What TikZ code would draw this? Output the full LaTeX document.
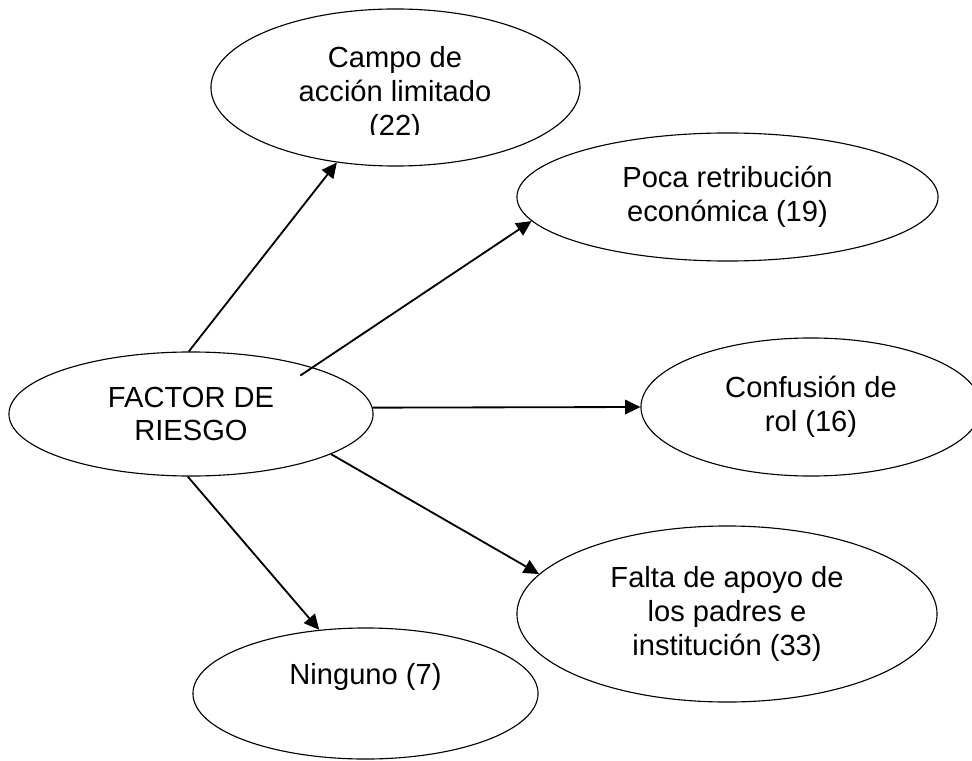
\documentclass[tikz,border=0pt]{standalone}
\usepackage{fontspec}
\setmainfont{Liberation Sans}
\usetikzlibrary{shapes.geometric, arrows.meta}

\begin{document}
\begin{tikzpicture}[
  x=0.025cm, y=-0.025cm,
  font=\fontsize{20.7}{24}\selectfont,
  >={Triangle[length=0.38cm, width=0.36cm]},
  elipse/.style={draw, ellipse, line width=0.8pt, inner sep=0pt, align=center},
]
  \useasboundingbox (0,0) rectangle (972,761);

  \node[elipse, minimum width=9.1cm, minimum height=3.1cm] (factor) at (191,414) {FACTOR DE\\RIESGO};
  \node[elipse, minimum width=9.225cm, minimum height=3.925cm] (campo) at (395.5,87.5) {};
  \begin{scope}
    \clip (200,0) rectangle (600,135);
    \node[align=center, inner sep=0pt] (campotxt) at (395,94) {Campo de\\acción limitado\\(22)};
  \end{scope}
  \node[elipse, minimum width=10.525cm, minimum height=3.2cm] (poca) at (727.5,197) {Poca retribución\\económica (19)};
  \node[elipse, minimum width=8.5cm, minimum height=3.45cm] (confusion) at (811,407) {Confusión de\\rol (16)};
  \node[elipse, minimum width=10.5cm, minimum height=4.4cm] (falta) at (727,614) {Falta de apoyo de\\los padres e\\institución (33)};
  \node[elipse, minimum width=8.625cm, minimum height=3.275cm, text depth=1cm] (ninguno) at (365.5,693.5) {Ninguno (7)};

  \begin{scope}[line width=1.3pt]
    \draw[->] (factor.92.8) -- (campo.-128.2);
    \draw[->, shorten <=-0.37cm] (factor.21) -- (poca.187.2);
    \draw[->] (factor.2.5) -- (confusion.west);
    \draw[->] (factor.-16.8) -- (falta.168.9);
    \draw[->] (factor.267) -- (ninguno.126.1);
  \end{scope}
\end{tikzpicture}
\end{document}
